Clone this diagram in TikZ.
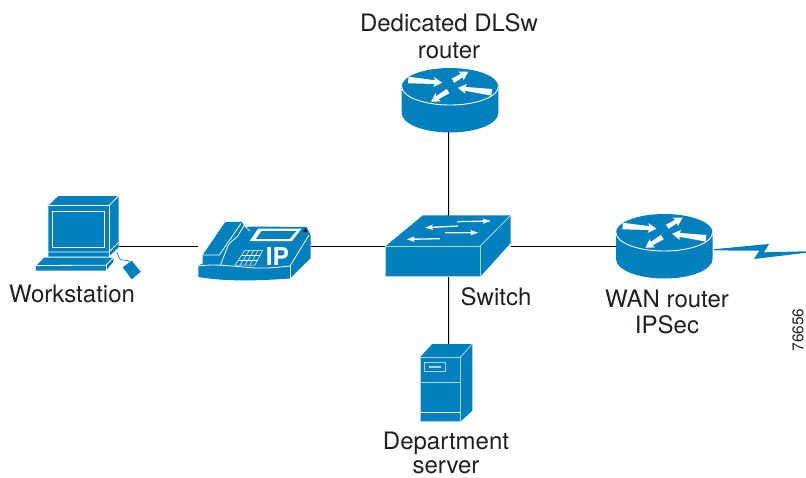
\documentclass[tikz,border=0pt]{standalone}
\usepackage{fontspec}
\setmainfont{TeX Gyre Heros}
\definecolor{ciscoblue}{HTML}{0080BD}
\definecolor{labelink}{HTML}{231F20}
\definecolor{ringblue}{HTML}{A8D3E9}
\newcommand{\flowarrow}[4]{%
  \pgfmathsetmacro{\fa}{atan2(-(#4-(#2)),#3-(#1))}%
  \pgfmathsetmacro{\fl}{veclen(#3-(#1),#4-(#2))}%
  \pgfmathsetmacro{\ft}{1.6+0.05*\fl}%
  \fill[white,shift={(#1,#2)},rotate=\fa]
    (0,-\ft)--(\fl-7.5,-1.9)--(\fl-8.5,-5)--(\fl,0)--(\fl-8.5,5)--(\fl-7.5,1.9)--(0,\ft)--cycle;}
\newcommand{\thinarrow}[4]{%
  \pgfmathsetmacro{\fa}{atan2(-(#4-(#2)),#3-(#1))}%
  \pgfmathsetmacro{\fl}{veclen(#3-(#1),#4-(#2))}%
  \fill[white,shift={(#1,#2)},rotate=\fa]
    (0,-.6)--(\fl-7,-.7)--(\fl-8,-2.7)--(\fl,0)--(\fl-8,2.7)--(\fl-7,.7)--(0,.6)--cycle;}
\newcommand{\routericon}[2]{%
  \begin{scope}[shift={(#1,#2)}]
    \fill[ciscoblue] (-48.3,0) -- (-48.3,26.5) arc[start angle=180,end angle=0,x radius=48.3,y radius=19.5]
      -- (48.3,0) arc[start angle=0,end angle=-180,x radius=48.3,y radius=18.5] -- cycle;
    \draw[white,line width=.9pt] (-48.3,0) arc[start angle=180,end angle=0,x radius=48.3,y radius=18.5];
    \flowarrow{-41.7}{-6.5}{-7.8}{-3.8}
    \flowarrow{3}{-5.8}{18.3}{-14.8}
    \flowarrow{41.7}{5.8}{7.7}{1.3}
    \flowarrow{-2}{4.5}{-19}{15.2}
  \end{scope}}
\tikzset{
  x=1pt,y=-1pt,
  hitbox/.style={inner sep=0pt,outer sep=0pt,rectangle},
  wire/.style={draw=black,line width=1.1pt},
  seam/.style={draw=white,line width=.8pt},
  softseam/.style={draw=ringblue,line width=.8pt},
  lbl/.style={text=labelink,font=\fontsize{24}{26}\selectfont,inner sep=0pt,anchor=base,align=center}
}
\begin{document}
\begin{tikzpicture}
\useasboundingbox (0,0) rectangle (806,477);
\fill[white] (0,0) rectangle (806,477);
% layout boxes
\node[hitbox,minimum width=82.6pt,minimum height=65pt] (ws) at (78,246.7) {};
\node[hitbox,minimum width=113pt,minimum height=65pt] (phone) at (254.2,246.7) {};
\node[hitbox,minimum width=125pt,minimum height=61pt] (sw) at (448.5,246.7) {};
\node[hitbox,minimum width=96.7pt,minimum height=65pt] (wan) at (664.3,246.7) {};
\node[hitbox,minimum width=96.7pt,minimum height=64pt] (dlsw) at (448.7,100) {};
\node[hitbox,minimum width=53pt,minimum height=78pt] (srv) at (448.7,383) {};
% connectors
\draw[wire] (ws) -- (phone);
\draw[wire] (phone) -- (sw);
\draw[wire] (sw) -- (wan);
\draw[wire] (dlsw) -- (sw);
\draw[wire] (sw) -- (srv);
% routers
\routericon{450}{86.5}
\routericon{664.3}{232.5}
% serial link
\fill[ciscoblue] (714,249.2) -- (769,244) -- (764,252.3) -- (806,251.3) -- (806,252.8) -- (754,259) -- (759.3,250.7) -- (714,250.4) -- cycle;
% switch
\fill[ciscoblue] (385.7,246) -- (423,215.3) -- (510.7,215.3) -- (510.7,243) -- (480.3,276.7) -- (385.7,276.7) -- cycle;
\draw[softseam] (385.7,246) rectangle (480.3,276.7);
\draw[seam,line width=.5pt] (480.3,246) -- (510.7,215.3);
\thinarrow{457.3}{221.7}{490.7}{221}
\thinarrow{458}{226}{425}{227.7}
\thinarrow{445}{232.7}{478.3}{232.7}
\thinarrow{440}{238.7}{406.7}{239.3}
% server
\fill[ciscoblue] (420,357.3) -- (432.3,344) -- (472.3,344) -- (472.3,410.7) -- (460.3,421.7) -- (420,421.7) -- cycle;
\draw[softseam] (420,357.3) rectangle (460.3,421.7);
\draw[softseam] (460.3,357.3) -- (472.3,344);
\draw[softseam] (420,382.3) -- (460.3,382.3);
\draw[seam] (420,412.3) -- (460.3,412.3);
\draw[softseam] (424.6,362.3) rectangle (445.5,371.3);
\fill[ringblue] (429,366) rectangle (441.3,368);
% workstation
\fill[ciscoblue] (48.3,205.7) -- (58.3,196) -- (118.5,196) -- (118.5,247.3) -- (109,256.7) -- (48.3,256.7) -- cycle;
\draw[seam] (48.3,205.7) -- (109,205.7) -- (109,256.7);
\draw[seam] (109,205.7) -- (118.5,196);
\draw[seam] (48.3,252) -- (109,252) -- (118.5,242.3);
\draw[white,line width=1pt,fill=ciscoblue] (52.9,211) rectangle (104,247.3);
\fill[ciscoblue] (36,266) -- (44,257.7) -- (113.3,257.7) -- (113.3,261.7) -- (106,270.7) -- (36,270.7) -- cycle;
\draw[seam] (36,265.5) -- (106,265.2) -- (113.3,257.7);
\draw[seam] (106,265.2) -- (106,270.7);
\draw[ciscoblue,line width=.7pt] (116.7,251.7) .. controls (118,255) and (119,259) .. (121.7,260) .. controls (124,260.5) and (127,259.5) .. (130,262);
\fill[ciscoblue] (122.7,267.3) -- (131.7,260.7) -- (140.7,271.7) -- (131.7,279.3) -- cycle;
% phone
\fill[ciscoblue] (198.3,265.5) -- (198.3,277) .. controls (225,281.5) and (255,281) .. (290,278.5) -- (310.5,258.3) -- (310.5,235) -- (306.5,227) -- (253,226.5) -- (245,227) -- (241.7,221.7) -- (225,222.3) -- (202.7,255) -- (202.7,263.5) -- cycle;
\draw[seam] (198.3,266) .. controls (215,263.5) and (235,266.5) .. (255,268) .. controls (270,268.5) and (280,267) .. (290,266);
\draw[seam] (290,266) -- (290,278.5);
\draw[seam] (290,266) -- (309,235);
\draw[seam] (202.7,255) -- (219.3,255) -- (241,223.5);
\draw[seam] (244.5,225) -- (237.3,236.7) .. controls (232,241) and (229,243) .. (227.5,247) -- (220.5,265);
\draw[seam,line width=.6pt] (245,226.5) -- (250,231);
\fill[white] (249.6,241) -- (258.3,228.5) -- (301.7,228.5) -- (292,241) -- cycle;
\fill[ciscoblue] (256,238.8) -- (261.5,231) -- (296.5,231) -- (289.5,238.8) -- cycle;
\draw[white,line width=.5pt] (235,265) -- (245,250.3) -- (262.7,250.3) -- (255,265) -- cycle;
\draw[white,line width=.5pt] (238.3,260.1) -- (257.6,260.1) (241.7,255.2) -- (260.1,255.2);
\draw[white,line width=.5pt] (240,265) -- (249.4,250.3) (245,265) -- (253.8,250.3) (250,265) -- (258.2,250.3);
\fill[black] (303,232) -- (306,228) -- (307,232) -- cycle;
\node[hitbox,text=white,font=\fontsize{24.6}{26}\bfseries\selectfont,anchor=base] (iptag) at (277.5,265.3) {IP};
% labels
\node[lbl] (l1) at (449,31) {Dedicated DLSw};
\node[lbl] (l2) at (449,58) {router};
\node[lbl] (l3) at (72,302) {Workstation};
\node[lbl] (l4) at (496,305) {Switch};
\node[lbl] (l5) at (667,307) {WAN router};
\node[lbl] (l6) at (667,333) {IPSec};
\node[lbl] (l7) at (446,449) {Department};
\node[lbl] (l8) at (446,473) {server};
\node[hitbox,text=labelink,font=\fontsize{15.5}{18}\selectfont,rotate=90] (l9) at (798,330) {76656};
\end{tikzpicture}
\end{document}
